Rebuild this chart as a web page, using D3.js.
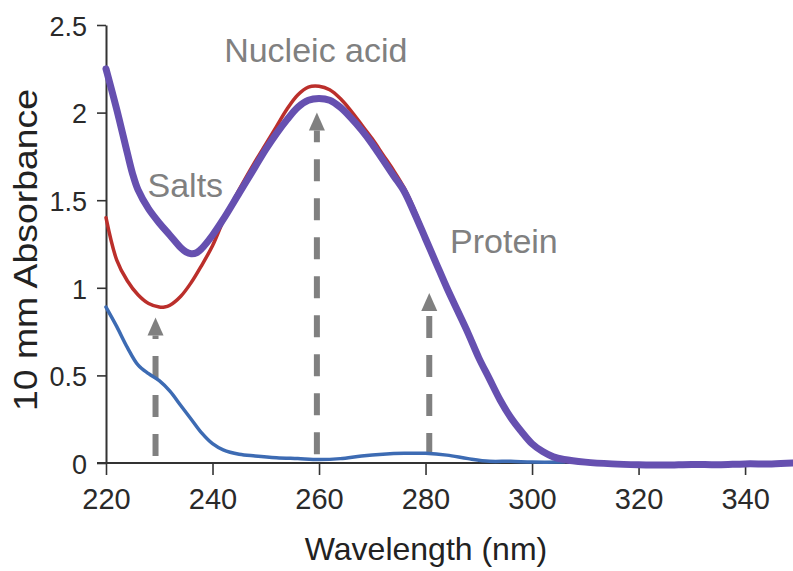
<!DOCTYPE html>
<html>
<head>
<meta charset="utf-8">
<script src="https://cdn.jsdelivr.net/npm/d3@7"></script>
<style>
  body { margin: 0; background: #fff; }
  svg text { font-family: "Liberation Sans", Arial, Helvetica, sans-serif; }
</style>
</head>
<body>
<div id="chart"></div>
<script>
// Wavelength (nm) samples and absorbance readings for each trace
const purpleNm = [220, 222, 224, 225, 226, 228, 230, 232, 234, 235, 236, 237, 238, 240, 242, 245, 248, 250, 252, 254, 256, 258, 260, 262, 264, 266, 268, 270, 272, 274, 276, 278, 280, 282, 284, 286, 288, 290, 292, 294, 296, 298, 300, 302, 304, 306, 310, 315, 320, 325, 330, 335, 340, 345, 349];
const purpleAbs = [2.25, 2.02, 1.77, 1.65, 1.56, 1.45, 1.37, 1.30, 1.23, 1.205, 1.195, 1.20, 1.225, 1.30, 1.39, 1.54, 1.69, 1.79, 1.88, 1.96, 2.03, 2.07, 2.08, 2.07, 2.03, 1.97, 1.90, 1.82, 1.73, 1.64, 1.55, 1.42, 1.28, 1.14, 1.00, 0.87, 0.74, 0.60, 0.48, 0.36, 0.26, 0.18, 0.11, 0.065, 0.035, 0.02, 0.005, -0.005, -0.01, -0.012, -0.008, -0.01, -0.005, -0.005, 0.0];

const redNm = [220, 222, 224, 226, 228, 230, 231, 232, 234, 236, 238, 240, 242, 245, 248, 250, 252, 254, 256, 258, 260, 262, 264, 266, 268, 270, 272, 274, 276, 278, 280, 282, 284, 286, 288, 290, 292, 294, 296, 298, 300, 302, 304, 306, 310];
const redAbs = [1.40, 1.16, 1.04, 0.96, 0.91, 0.89, 0.89, 0.90, 0.95, 1.03, 1.13, 1.24, 1.38, 1.56, 1.72, 1.82, 1.92, 2.02, 2.10, 2.145, 2.15, 2.13, 2.08, 2.01, 1.93, 1.85, 1.76, 1.67, 1.57, 1.44, 1.29, 1.14, 1.00, 0.87, 0.74, 0.60, 0.48, 0.36, 0.26, 0.18, 0.11, 0.065, 0.035, 0.02, 0.005];

const blueNm = [220, 222, 224, 226, 228, 230, 232, 234, 236, 238, 240, 242, 245, 248, 252, 256, 260, 264, 268, 272, 276, 280, 284, 288, 292, 296, 300, 306];
const blueAbs = [0.89, 0.78, 0.66, 0.56, 0.51, 0.47, 0.41, 0.33, 0.25, 0.17, 0.11, 0.075, 0.05, 0.04, 0.03, 0.025, 0.02, 0.025, 0.04, 0.05, 0.055, 0.055, 0.045, 0.025, 0.01, 0.01, 0.005, 0.005];

// Dashed arrows: wavelength, base and tip absorbance
const arrowNm = [229.3, 259.6, 280.7];
const arrowBase = [0.04, 0.05, 0.045];
const arrowTip = [0.83, 2.0, 0.97];

// Labels
const labelText = ["Nucleic acid", "Salts", "Protein"];
const labelNm = [259.4, 227.8, 284.6];
const labelAbs = [2.29, 1.52, 1.2];
const labelAnchor = ["middle", "start", "start"];

const xTicks = [220, 240, 260, 280, 300, 320, 340];
const yTicks = [0, 0.5, 1, 1.5, 2, 2.5];

const W = 793, H = 571;
const svg = d3.select("#chart").append("svg")
    .attr("width", W)
    .attr("height", H);

const x = d3.scaleLinear().domain([220, 349]).range([106, 793]);
const y = d3.scaleLinear().domain([0, 2.5]).range([463, 25]);

// Axes
const axisColor = "#333";
const gx = svg.append("g")
    .attr("transform", `translate(0,${y(0)})`)
    .call(d3.axisBottom(x).tickValues(xTicks).tickSize(12).tickSizeOuter(0).tickFormat(d3.format("d")));
gx.select(".domain").attr("stroke", axisColor).attr("stroke-width", 2).attr("d", `M${x(220) - 9},0H${W}`);
gx.selectAll(".tick line").attr("stroke", axisColor).attr("stroke-width", 1.6);
gx.selectAll(".tick text")
    .attr("y", 25).attr("dy", "0.71em")
    .attr("font-size", 29).attr("fill", "#2a2a2a");

const gy = svg.append("g")
    .attr("transform", `translate(${x(220)},0)`)
    .call(d3.axisLeft(y).tickValues(yTicks).tickSize(9).tickSizeOuter(0).tickPadding(10).tickFormat(d => d3.format("")(d)));
gy.select(".domain").attr("stroke", axisColor).attr("stroke-width", 2);
gy.selectAll(".tick line").attr("stroke", axisColor).attr("stroke-width", 1.6);
gy.selectAll(".tick text")
    .attr("dy", "0.38em")
    .attr("font-size", 27).attr("fill", "#2a2a2a");

// Axis titles
svg.append("text")
    .attr("x", 426).attr("y", 560)
    .attr("text-anchor", "middle")
    .attr("font-size", 32).attr("fill", "#222")
    .text("Wavelength (nm)");

svg.append("text")
    .attr("transform", "translate(37,250) rotate(-90)")
    .attr("text-anchor", "middle")
    .attr("font-size", 34).attr("fill", "#222")
    .attr("textLength", 322).attr("lengthAdjust", "spacingAndGlyphs")
    .text("10 mm Absorbance");

// Dashed arrows (drawn beneath the traces)
const gray = "#808080";
const arrows = svg.append("g");
arrowNm.forEach((nm, i) => {
    const ax = x(nm), yb = y(arrowBase[i]), yt = y(arrowTip[i]);
    const headH = 18, headW = 8;
    arrows.append("line")
        .attr("x1", ax).attr("x2", ax)
        .attr("y1", yb).attr("y2", yt + headH)
        .attr("stroke", gray).attr("stroke-width", 6)
        .attr("stroke-dasharray", "22,17");
    arrows.append("path")
        .attr("d", `M${ax},${yt}L${ax + headW},${yt + headH}L${ax - headW},${yt + headH}Z`)
        .attr("fill", gray);
});

// Traces
const line = d3.line()
    .x(d => x(d[0]))
    .y(d => y(d[1]))
    .curve(d3.curveCatmullRom.alpha(0.5));

const traces = [
    { nm: blueNm, abs: blueAbs, color: "#3d6bb3", width: 3.5 },
    { nm: redNm, abs: redAbs, color: "#bb2f2b", width: 3.5 },
    { nm: purpleNm, abs: purpleAbs, color: "#6650b0", width: 7 }
];

traces.forEach(t => {
    svg.append("path")
        .datum(t.nm.map((n, i) => [n, t.abs[i]]))
        .attr("fill", "none")
        .attr("stroke", t.color)
        .attr("stroke-width", t.width)
        .attr("stroke-linejoin", "round")
        .attr("stroke-linecap", "round")
        .attr("d", line);
});

// Annotations
labelText.forEach((t, i) => {
    svg.append("text")
        .attr("x", x(labelNm[i]))
        .attr("y", y(labelAbs[i]))
        .attr("text-anchor", labelAnchor[i])
        .attr("font-size", 34)
        .attr("fill", gray)
        .text(t);
});
</script>
</body>
</html>
